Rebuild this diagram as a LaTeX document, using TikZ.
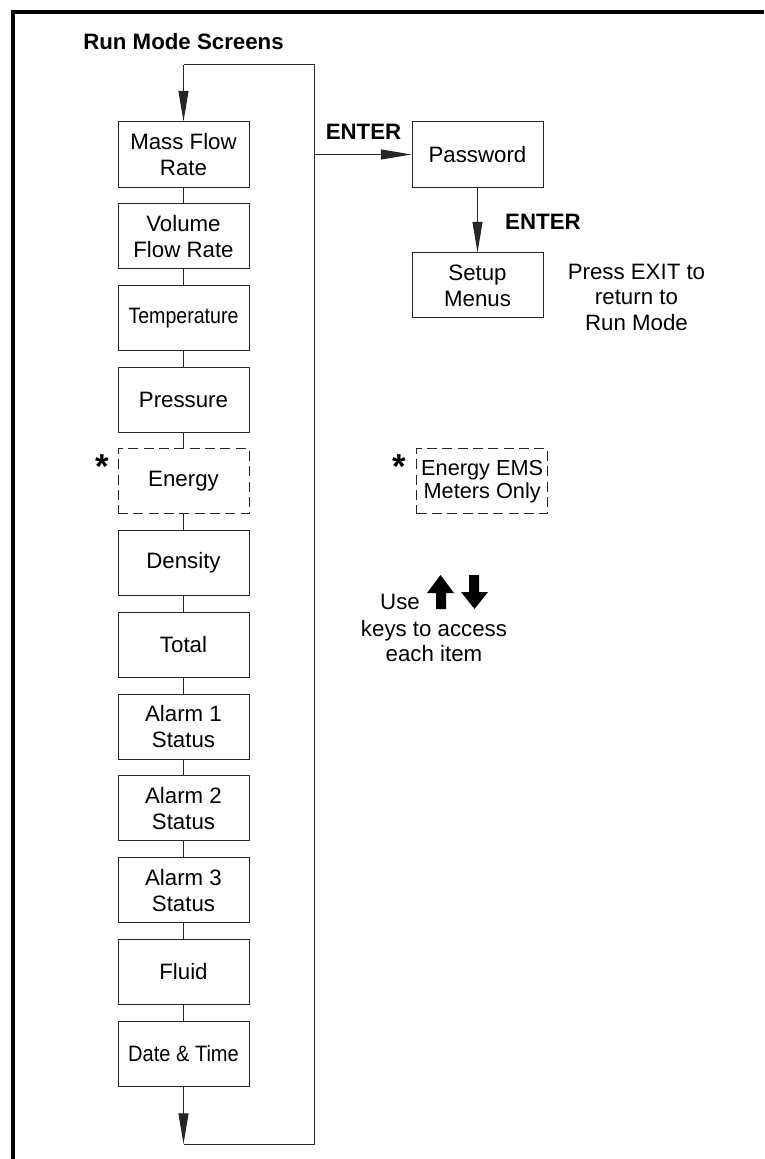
\documentclass[tikz,border=0pt]{standalone}
\usepackage{fontspec}
\setmainfont{Liberation Sans}
\usepackage{tikz}
\usetikzlibrary{arrows.meta, positioning}

\begin{document}
\begin{tikzpicture}[
	x=0.75pt, y=0.75pt,
	node distance=11.8pt,
	screen_box/.style={rectangle, draw=black!85, line width=0.75pt, minimum width=98.25pt, minimum height=48.75pt, inner sep=2pt, align=center, font=\fontsize{16.7}{19.5}\selectfont},
	opt_box/.style={screen_box, dash pattern=on 7.5pt off 4pt},
	key_label/.style={inner sep=0pt, font=\fontsize{16.7}{19.5}\selectfont\bfseries},
	note_text/.style={align=center, inner sep=0pt, font=\fontsize{16.7}{19.2}\selectfont},
	note_star/.style={inner sep=0pt, font=\fontsize{26}{26}\selectfont\bfseries},
	loop_line/.style={draw=black!85, line width=0.75pt},
	flow_arrow/.style={loop_line, -{Triangle[length=23pt, width=7.5pt]}}
	]
	\useasboundingbox (0,0) rectangle (764,-1159);
	
	% --- MOLDURA ---
	\draw[line width=3pt] (12.5,-1159) -- (12.5,-12.5) -- (764,-12.5);
	
	% --- TELAS DO RUN MODE ---
	\node[key_label] (title) at (183.5,-42) {Run Mode Screens};
	\node[screen_box] (mass) at (183.5,-154.5) {Mass Flow\\Rate};
	\node[screen_box] (volume) [below=of mass] {Volume\\Flow Rate};
	\node[screen_box] (temp) [below=of volume] {\scalebox{0.88}[1]{Temperature}};
	\node[screen_box] (pressure) [below=of temp] {Pressure};
	\node[opt_box] (energy) [below=of pressure] {Energy}; \node[note_star, below left=4.5pt and 6pt of energy.north west] (star_a) {*};
	\node[screen_box] (density) [below=of energy] {Density};
	\node[screen_box] (total) [below=of density] {Total};
	\node[screen_box] (alarm_a) [below=of total] {Alarm 1\\Status};
	\node[screen_box] (alarm_b) [below=of alarm_a] {Alarm 2\\Status};
	\node[screen_box] (alarm_c) [below=of alarm_b] {Alarm 3\\Status};
	\node[screen_box] (fluid) [below=of alarm_c] {Fluid};
	\node[screen_box] (date) [below=of fluid] {\scalebox{0.9}[1]{Date \& Time}};
	
	% --- SENHA E MENUS ---
	\node[screen_box] (password) [right=121.5pt of mass] {Password};
	\node[key_label, above left=10.9pt and 7.5pt of password.west] (enter_a) {ENTER};
	\node[screen_box] (setup) [below=48.7pt of password] {Setup\\Menus};
	\node[key_label, below right=20pt and 20.6pt of password.south] (enter_b) {ENTER};
	\node[note_text, right=18pt of setup, yshift=-9pt] (exit_note) {Press EXIT to\\return to\\Run Mode};
	
	% --- NOTAS ---
	\node[opt_box, font=\fontsize{16.3}{17.3}\selectfont] (ems) [right=125pt of energy] {Energy EMS\\Meters Only};
	\node[note_star, below left=4.5pt and 7.5pt of ems.north west] (star_b) {*};
	\node[note_text] (use_note) at (400,-602) {Use};
	\node[note_text] (keys_note) at (434,-641) {keys to access\\each item};
	\fill (440.5,-575) -- (454,-593) -- (446,-593) -- (446,-609) -- (436,-609) -- (436,-593) -- (427,-593) -- cycle;
	\fill (469,-575) -- (479,-575) -- (479,-592) -- (488,-592) -- (474.5,-609) -- (461,-592) -- (469,-592) -- cycle;
	
	% --- LIGACOES ---
	\coordinate (loop_tl) at (183.5,-65);
	\coordinate (loop_tr) at (314,-65);
	\coordinate (loop_br) at (314,-1144);
	\coordinate (loop_bl) at (183.5,-1144);
	\coordinate (tap) at (314,-154.5);
	\draw[flow_arrow] (loop_tl) -- (mass);
	\draw[loop_line] (mass) -- (volume);
	\draw[loop_line] (volume) -- (temp);
	\draw[loop_line] (temp) -- (pressure);
	\draw[loop_line] (pressure) -- (energy);
	\draw[loop_line] (energy) -- (density);
	\draw[loop_line] (density) -- (total);
	\draw[loop_line] (total) -- (alarm_a);
	\draw[loop_line] (alarm_a) -- (alarm_b);
	\draw[loop_line] (alarm_b) -- (alarm_c);
	\draw[loop_line] (alarm_c) -- (fluid);
	\draw[loop_line] (fluid) -- (date);
	\draw[flow_arrow] (date) -- (loop_bl);
	\draw[loop_line] (loop_bl) -- (loop_br) -- (loop_tr) -- (loop_tl);
	\draw[flow_arrow] (tap) -- (password);
	\draw[flow_arrow] (password) -- (setup);
	
\end{tikzpicture}
\end{document}
